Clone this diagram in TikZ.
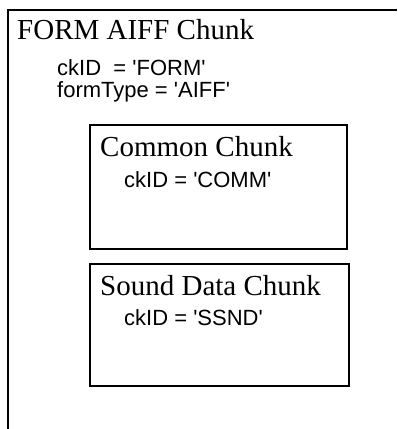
\documentclass[tikz,border=0pt]{standalone}
\usepackage{fontspec}
\setmainfont{Liberation Serif}
\setsansfont{Liberation Sans}
\newcommand{\sqmark}{\textquotesingle}
\begin{document}
\begin{tikzpicture}[x=1pt,y=-1pt,
  chunkbox/.style={draw=black,line width=2pt},
  titletext/.style={anchor=base west,inner sep=0pt,font=\fontsize{29}{31}\selectfont\rmfamily},
  fieldtext/.style={anchor=base west,inner sep=0pt,font=\fontsize{22}{24}\selectfont\sffamily}]
\useasboundingbox (0,0) rectangle (397,429);
% outer FORM chunk (cut off at right and bottom)
\coordinate (outerTR) at (397,10);
\coordinate (outerTL) at (8,10);
\coordinate (outerBL) at (8,429);
\draw[chunkbox] (outerTR) -- (outerTL) -- (outerBL);
\node[titletext] (formtitle) at (17,39) {FORM AIFF Chunk};
\node[fieldtext] (formid) at (57,75) {ckID\ \ = \sqmark FORM\sqmark};
\node[fieldtext] (formtype) at (57,97) {formType = \sqmark AIFF\sqmark};
% common chunk
\coordinate (commTL) at (90,125);
\coordinate (commBR) at (347,249);
\draw[chunkbox] (commTL) rectangle (commBR);
\node[titletext] (commtitle) at (100,156) {Common Chunk};
\node[fieldtext] (commid) at (124,187) {ckID = \sqmark COMM\sqmark};
% sound data chunk
\coordinate (ssndTL) at (90,264);
\coordinate (ssndBR) at (349,386);
\draw[chunkbox] (ssndTL) rectangle (ssndBR);
\node[titletext] (ssndtitle) at (100,295) {Sound Data Chunk};
\node[fieldtext] (ssndid) at (124,325) {ckID = \sqmark SSND\sqmark};
\end{tikzpicture}
\end{document}
